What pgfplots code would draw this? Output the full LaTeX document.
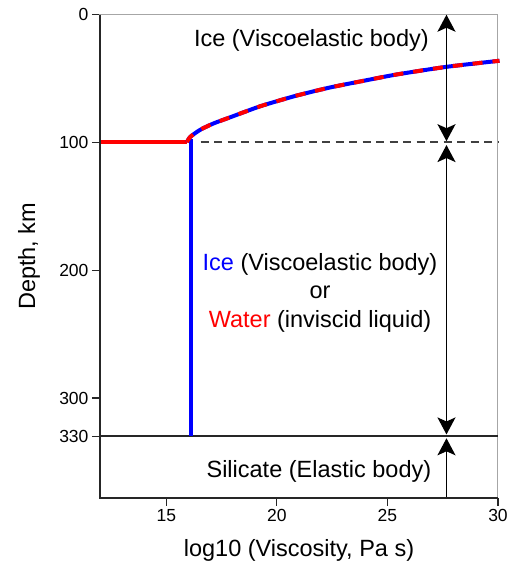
\documentclass[border=0pt]{standalone}
\usepackage{pgfplots}
\usepackage{pgfplotstable}
\pgfplotsset{compat=1.18}
\usepackage{fontspec}
\setmainfont{Liberation Sans}
\usetikzlibrary{arrows.meta}
\definecolor{pred}{RGB}{255,0,0}
\definecolor{pblue}{RGB}{0,0,255}
\pgfplotstableread{
x d
15.93 99.8
16.07 95.8
16.52 90.2
17.12 85.2
17.87 80.4
18.63 75.5
19.38 70.9
20.89 63.3
22.39 57.0
23.90 51.8
25.41 46.8
27.67 40.8
29.93 36.3
30.00 36.1
}\curve
\begin{document}
\begin{tikzpicture}
\begin{axis}[
  at={(0pt,0pt)}, anchor=south west,
  width=398pt, height=483pt, scale only axis,
  xmin=12, xmax=30, ymin=0, ymax=378, y dir=reverse,
  xtick={15,20,25,30}, ytick={0,100,200,300,330},
  tick align=outside, major tick length=8pt,
  xtick pos=left, ytick pos=left,
  tick style={line width=1.2pt, black!85},
  axis line style={draw=gray!70, line width=1pt},
  /pgf/number format/assume math mode=true,
  tick label style={font=\fontsize{17.5}{20}\selectfont},
  xlabel={log10 (Viscosity, Pa s)}, ylabel={Depth, km},
  label style={font=\fontsize{23.5}{28}\selectfont},
  xlabel style={at={(axis description cs:0.5,-0.110)}, anchor=center},
  ylabel style={at={(axis description cs:-0.178,0.5)}, anchor=center},
  clip=false,
]
% boundary lines
\addplot[black!75, line width=2pt, dash pattern=on 8pt off 5.5pt] coordinates {(16.55,100) (30,100)};
\addplot[black!85, line width=2pt] coordinates {(12,330) (30,330)};
% profile
\addplot[pred, line width=4pt] coordinates {(12,100) (15.95,100)};
\addplot[pblue, line width=4pt] coordinates {(16.1,330) (16.1,97)};
\addplot[pblue, line width=4pt, smooth, tension=0.4] table[x=x,y=d] {\curve};
\addplot[pred, line width=4pt, smooth, tension=0.4, dash pattern=on 10pt off 10pt] table[x=x,y=d] {\curve};
% arrows
\addplot[black, line width=1.8pt, {Stealth[length=17pt,width=18pt,inset=4pt]}-{Stealth[length=17pt,width=18pt,inset=4pt]}] coordinates {(27.67,0) (27.67,99)};
\addplot[black, line width=1.8pt, {Stealth[length=17pt,width=18pt,inset=4pt]}-{Stealth[length=17pt,width=18pt,inset=4pt]}] coordinates {(27.67,102) (27.67,328.5)};
\addplot[black, line width=1.8pt, {Stealth[length=17pt,width=18pt,inset=4pt]}-] coordinates {(27.67,331.5) (27.67,378)};
% spines
\draw[black!85, line width=2pt, line join=miter] (axis cs:12,0) -- (axis cs:12,378) -- (axis cs:30,378);
% texts
\node[font=\fontsize{23.5}{28.5}\selectfont] at (axis cs:21.56,20) {Ice (Viscoelastic body)};
\node[font=\fontsize{23.5}{28.5}\selectfont, align=center] at (axis cs:21.95,217.7) {\textcolor{pblue}{Ice} (Viscoelastic body)\\or\\\textcolor{pred}{Water} (inviscid liquid)};
\node[font=\fontsize{23.5}{28.5}\selectfont] at (axis cs:21.9,357.4) {Silicate (Elastic body)};
\end{axis}
\pgfresetboundingbox
\path (-100pt,-68.3pt) rectangle (413pt,497.7pt);
\end{tikzpicture}
\end{document}
